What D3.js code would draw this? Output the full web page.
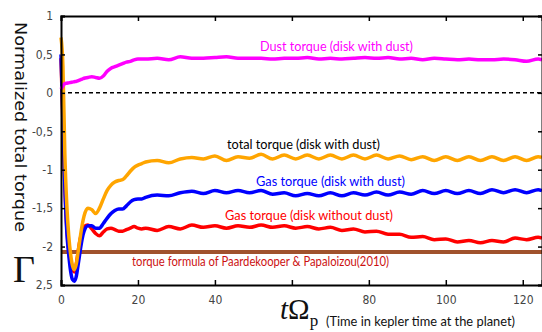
<!DOCTYPE html>
<html>
<head>
<meta charset="utf-8">
<script src="https://cdn.jsdelivr.net/npm/d3@7/dist/d3.min.js"></script>
<style>
  body { margin: 0; background: #fff; }
  svg { display: block; }
</style>
</head>
<body>
<div id="chart"></div>
<script>
var w = 542;
var h = 332;

// time axis (kepler orbits at the planet)
var times = [0, 0.5, 1, 1.5, 2, 2.5, 3, 3.5, 4, 4.5, 5, 5.5, 6, 7, 8, 9, 10, 11, 12, 13, 14, 15, 16, 17, 18, 19, 20, 21,
  22, 25, 28, 31, 34, 37, 40, 43, 46, 49, 52, 55, 58, 61, 64, 67, 70, 73, 76, 79, 82, 85, 88, 91, 94, 97, 100,
  103, 106, 109, 112, 115, 118, 121, 124, 125];

var dustTorque = [0.05, 0.09, 0.12, 0.125, 0.13, 0.135, 0.14, 0.145, 0.15, 0.16, 0.17, 0.18, 0.19, 0.2, 0.21, 0.2, 0.19, 0.22, 0.28, 0.32, 0.34, 0.36, 0.38, 0.4, 0.41, 0.43, 0.44, 0.44,
  0.44, 0.45, 0.43, 0.47, 0.45, 0.45, 0.46, 0.47, 0.45, 0.45, 0.45, 0.44, 0.45, 0.45, 0.46, 0.44, 0.45, 0.44, 0.45, 0.46, 0.45, 0.46, 0.44, 0.45, 0.43, 0.45, 0.44,
  0.43, 0.44, 0.43, 0.43, 0.44, 0.43, 0.41, 0.44, 0.43];

var totalTorque = [0.72, 0.35, -0.8, -1.45, -1.85, -2.1, -2.25, -2.3, -2.22, -2.05, -1.88, -1.72, -1.6, -1.5, -1.52, -1.57, -1.5, -1.38, -1.27, -1.2, -1.16, -1.14, -1.13, -1.08, -1.02, -0.97, -0.94, -0.92,
  -0.9, -0.88, -0.91, -0.86, -0.84, -0.86, -0.82, -0.88, -0.83, -0.85, -0.8, -0.86, -0.81, -0.86, -0.81, -0.86, -0.81, -0.86, -0.81, -0.86, -0.81, -0.86, -0.82, -0.87, -0.83, -0.88, -0.83,
  -0.88, -0.83, -0.88, -0.83, -0.88, -0.83, -0.88, -0.83, -0.84];

var gasWithDust = [0.5, -0.3, -1.2, -1.8, -2.1, -2.32, -2.43, -2.45, -2.38, -2.22, -2.05, -1.9, -1.8, -1.73, -1.73, -1.76, -1.76, -1.7, -1.63, -1.57, -1.53, -1.51, -1.51, -1.47, -1.42, -1.39, -1.38, -1.38,
  -1.36, -1.33, -1.34, -1.3, -1.28, -1.31, -1.27, -1.3, -1.27, -1.3, -1.27, -1.32, -1.3, -1.34, -1.31, -1.34, -1.3, -1.34, -1.3, -1.33, -1.29, -1.33, -1.29, -1.32, -1.27, -1.31, -1.27,
  -1.31, -1.27, -1.31, -1.26, -1.3, -1.26, -1.3, -1.26, -1.27];

var gasNoDust = [0.45, -0.4, -1.2, -1.75, -2.05, -2.22, -2.3, -2.33, -2.22, -2.05, -1.9, -1.8, -1.74, -1.72, -1.77, -1.83, -1.86, -1.81, -1.77, -1.76, -1.78, -1.8, -1.8, -1.78, -1.76, -1.74, -1.76, -1.77,
  -1.76, -1.79, -1.74, -1.77, -1.72, -1.75, -1.73, -1.76, -1.73, -1.75, -1.72, -1.75, -1.73, -1.76, -1.74, -1.77, -1.75, -1.79, -1.77, -1.81, -1.8, -1.84, -1.84, -1.88, -1.87, -1.91, -1.9,
  -1.94, -1.92, -1.95, -1.92, -1.94, -1.89, -1.91, -1.88, -1.89];

var formulaTorque = -2.07;

var xTicks = [0, 20, 40, 60, 80, 100, 120];
var xTickLabels = ["0", "20", "40", "", "80", "100", "120"];
var yTicks = [1, 0.5, 0, -0.5, -1, -1.5, -2, -2.5];
var yTickLabels = ["1", "0,5", "0", "-0,5", "-1", "-1,5", "-2", "2,5"];

var series = [
  { name: "Gas torque (disk without dust)", values: gasNoDust, color: "#ff0000", lx: 225, ly: 220, lw: 168 },
  { name: "Gas torque (disk with dust)", values: gasWithDust, color: "#0000ff", lx: 256, ly: 186, lw: 149 },
  { name: "total torque (disk with dust)", values: totalTorque, color: "#ffa500", lx: 227, ly: 149, lw: 153, textColor: "#000" },
  { name: "Dust torque (disk with dust)", values: dustTorque, color: "#ff00ff", lx: 260, ly: 51, lw: 153 }
];

var plotLeft = 61, plotRight = 542, plotTop = 16, plotBottom = 285;

var x = d3.scaleLinear().domain([0, 125]).range([plotLeft, plotRight]);
var y = d3.scaleLinear().domain([-2.5, 1]).range([plotBottom, plotTop]);

var svg = d3.select("#chart")
  .append("svg")
  .attr("width", w)
  .attr("height", h);

var labelFont = "'Liberation Sans Narrow', 'DejaVu Sans Condensed', sans-serif";
var textFont = "Lato, 'Open Sans', sans-serif";

// zero line
svg.append("line")
  .attr("x1", x(0)).attr("x2", x(125))
  .attr("y1", y(0)).attr("y2", y(0))
  .attr("stroke", "#000")
  .attr("stroke-width", 1.5)
  .attr("stroke-dasharray", "4,3");

// Paardekooper & Papaloizou formula
svg.append("line")
  .attr("x1", x(0)).attr("x2", x(125))
  .attr("y1", y(formulaTorque)).attr("y2", y(formulaTorque))
  .attr("stroke", "#a0522d")
  .attr("stroke-width", 4);

var line = d3.line()
  .x(function(d, i){ return x(times[i]); })
  .y(function(d){ return y(d); })
  .curve(d3.curveMonotoneX);

svg.selectAll("path.series")
  .data(series)
  .enter()
  .append("path")
  .attr("class", "series")
  .attr("d", function(d){ return line(d.values); })
  .attr("fill", "none")
  .attr("stroke", function(d){ return d.color; })
  .attr("stroke-width", 3.5)
  .attr("stroke-linejoin", "round");

svg.selectAll("text.serieslabel")
  .data(series)
  .enter()
  .append("text")
  .attr("class", "serieslabel")
  .attr("x", function(d){ return d.lx; })
  .attr("y", function(d){ return d.ly; })
  .attr("textLength", function(d){ return d.lw; })
  .attr("lengthAdjust", "spacingAndGlyphs")
  .attr("font-family", textFont)
  .attr("font-size", 14)
  .attr("fill", function(d){ return d.textColor || d.color; })
  .text(function(d){ return d.name; });

svg.append("text")
  .attr("x", 132)
  .attr("y", 266)
  .attr("textLength", 257)
  .attr("lengthAdjust", "spacingAndGlyphs")
  .attr("font-family", textFont)
  .attr("font-size", 13)
  .attr("fill", "#cc1111")
  .text("torque formula of Paardekooper & Papaloizou(2010)");

// axes
var yAxis = d3.axisLeft(y)
  .tickValues(yTicks)
  .tickFormat(function(d, i){ return yTickLabels[i]; })
  .tickSize(-4)
  .tickPadding(8);

var yAxisRight = d3.axisRight(y)
  .tickValues(yTicks)
  .tickFormat("")
  .tickSize(-4);

var xAxis = d3.axisBottom(x)
  .tickValues(xTicks)
  .tickFormat(function(d, i){ return xTickLabels[i]; })
  .tickSize(-5)
  .tickPadding(10);

var xAxisTop = d3.axisTop(x)
  .tickValues(xTicks)
  .tickFormat("")
  .tickSize(-5);

function styleAxis(g){
  g.select(".domain").attr("stroke", "#000").attr("stroke-width", 2);
  g.selectAll(".tick line").attr("stroke", "#000").attr("stroke-width", 1.5);
  g.selectAll(".tick text")
    .attr("font-family", labelFont)
    .attr("font-size", 12)
    .attr("fill", "#444");
}

svg.append("g").attr("transform", "translate(" + plotLeft + ",0)").call(yAxis).call(styleAxis);
svg.append("g").attr("transform", "translate(" + plotRight + ",0)").call(yAxisRight).call(styleAxis);
svg.append("g").attr("transform", "translate(0," + plotBottom + ")").call(xAxis).call(styleAxis);
svg.append("g").attr("transform", "translate(0," + plotTop + ")").call(xAxisTop).call(styleAxis);

// axis titles
svg.append("text")
  .attr("transform", "translate(15,127) rotate(90)")
  .attr("text-anchor", "middle")
  .attr("font-family", "'DejaVu Sans', sans-serif")
  .attr("font-size", 16)
  .attr("textLength", 210)
  .attr("lengthAdjust", "spacingAndGlyphs")
  .attr("fill", "#111")
  .text("Normalized total torque");

svg.append("text")
  .attr("x", 13)
  .attr("y", 282)
  .attr("font-family", "'Liberation Serif', 'DejaVu Serif', serif")
  .attr("font-size", 38)
  .attr("fill", "#111")
  .text("Γ");

var xt = svg.append("text")
  .attr("x", 280)
  .attr("y", 319)
  .attr("font-family", "'Liberation Serif', 'DejaVu Serif', serif")
  .attr("font-size", 29)
  .attr("fill", "#111");
xt.append("tspan").attr("font-style", "italic").text("t");
xt.append("tspan").text("Ω");
xt.append("tspan").attr("font-size", 17).attr("dy", 7).text("p");

svg.append("text")
  .attr("x", 326)
  .attr("y", 326)
  .attr("textLength", 189)
  .attr("lengthAdjust", "spacingAndGlyphs")
  .attr("font-family", textFont)
  .attr("font-size", 13.5)
  .attr("fill", "#111")
  .text("(Time in kepler time at the planet)");
</script>
</body>
</html>
